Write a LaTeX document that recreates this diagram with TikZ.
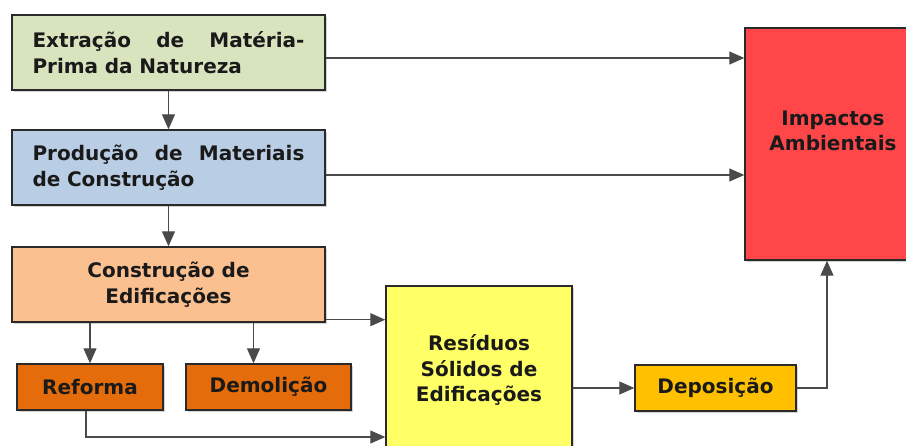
\documentclass[tikz,border=0pt]{standalone}
\usepackage{fontspec}
\setmainfont{DejaVu Sans}
\usetikzlibrary{arrows.meta,shadows,calc}

\definecolor{cGreen}{HTML}{D7E4BD}
\definecolor{cBlue}{HTML}{B9CDE5}
\definecolor{cPeach}{HTML}{FAC090}
\definecolor{cOrange}{HTML}{E46C0A}
\definecolor{cYellow}{HTML}{FFFF66}
\definecolor{cGold}{HTML}{FFC000}
\definecolor{cRed}{HTML}{FF474A}
\definecolor{cLine}{HTML}{2A2A2A}
\definecolor{cText}{HTML}{1A1A1A}

\tikzset{
  boxfont/.style={font=\bfseries\fontsize{20}{25.5}\selectfont, text=cText},
  box/.style={draw=cLine, line width=1.4pt, rectangle, inner sep=0pt,
    boxfont, align=center,
    drop shadow={shadow xshift=1.6pt, shadow yshift=-1.6pt, opacity=0.35}},
  link/.style={draw=cLine!85, line width=1.1pt, -{Triangle[length=15pt,width=13pt]}},
}

\begin{document}
\begin{tikzpicture}[x=1pt,y=-1pt]
  \useasboundingbox (0,0) rectangle (906,445);
  \clip (0,0) rectangle (906,445);

  % chain of production
  \node[box, fill=cGreen, minimum width=313pt, minimum height=75pt,
        text width=272pt, align=left] (b1) at (168.5,52.5)
    {\hbox to 272pt{Extração\hfill de\hfill Matéria-}\\Prima da Natureza};
  \node[box, fill=cBlue, minimum width=313pt, minimum height=75pt,
        text width=272pt, align=left] (b2) at (168.5,167.5)
    {\hbox to 272pt{Produção\hfill de\hfill Materiais}\\de Construção};
  \node[box, fill=cPeach, minimum width=313pt, minimum height=75pt] (b3) at (168.5,284.5)
    {Construção de\\Edificações};

  \node[box, fill=cOrange, minimum width=146pt, minimum height=46pt] (ref) at (90,387) {Reforma};
  \node[box, fill=cOrange, minimum width=165pt, minimum height=46pt] (dem) at (268.5,387) {Demolição};

  \node[box, fill=cYellow, minimum width=186pt, minimum height=168pt] (res) at (479,370)
    {Resíduos\\Sólidos de\\Edificações};
  \node[box, fill=cGold, minimum width=161pt, minimum height=46pt] (dep) at (715.5,388) {Deposição};

  \node[box, fill=cRed, minimum width=176pt, minimum height=232pt] (imp) at (833,144) {};
  \node[boxfont, align=center] (impt) at (833,131) {Impactos\\Ambientais};

  % connectors
  \draw[link] (b1.south) -- (b2.north);
  \draw[link] (b2.south) -- (b3.north);
  \draw[link] ([yshift=-5.5pt]b1.east) -- ([yshift=-5.5pt]b1.east -| imp.west);
  \draw[link] ([yshift=-7.5pt]b2.east) -- ([yshift=-7.5pt]b2.east -| imp.west);
  \draw[link] ([yshift=3pt]b3.south east) -- ([yshift=3pt]b3.south east -| res.west);
  \draw[link] (ref.north |- b3.south) -- (ref.north);
  \draw[link] ([xshift=-15pt]dem.north |- b3.south) -- ([xshift=-15pt]dem.north);
  \draw[link] ([xshift=-4pt]ref.south) |- ([yshift=-67pt]res.west);
  \draw[link] (res.east |- dep.west) -- (dep.west);
  \draw[link] (dep.east) -| ([xshift=-6pt]imp.south);
\end{tikzpicture}
\end{document}
